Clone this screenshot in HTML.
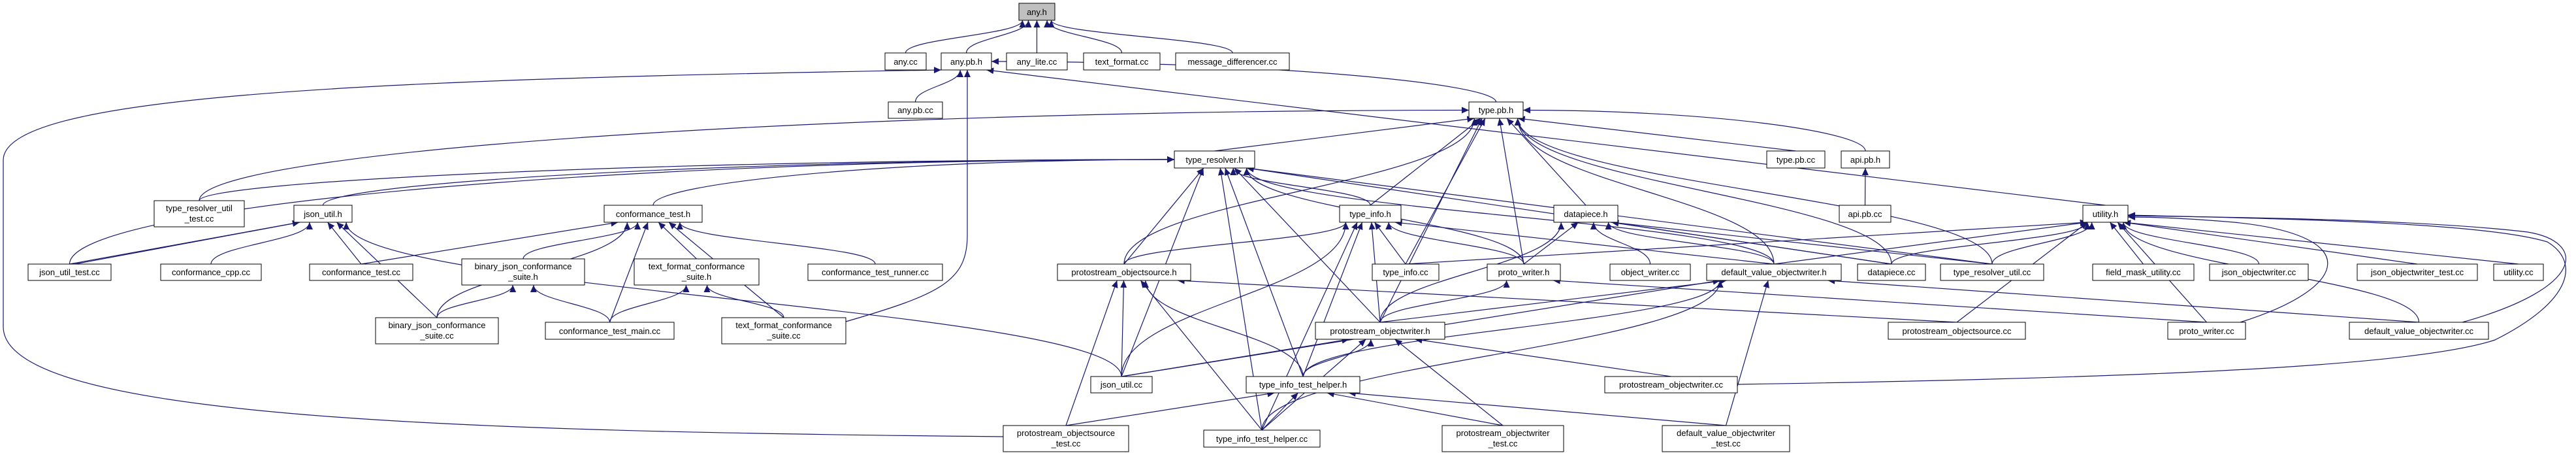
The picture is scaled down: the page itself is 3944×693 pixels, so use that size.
<!DOCTYPE html>
<html><head><meta charset="utf-8"><style>
html,body{margin:0;padding:0;background:#fff;}
svg{display:block;}
text{font-family:"Liberation Sans",sans-serif;font-size:13px;fill:#000;}
</style></head><body>
<svg id="g" xmlns="http://www.w3.org/2000/svg" width="3944" height="693" viewBox="0 0 3944 693">
<defs><marker id="ah" markerUnits="userSpaceOnUse" markerWidth="12" markerHeight="10" refX="11" refY="5" orient="auto"><path d="M0,0 L11,5 L0,10 z" fill="#191970"/></marker></defs>
<g id="edges" fill="none" stroke="#191970" stroke-width="1.2"></g>
<g id="nodes" stroke="#000" stroke-width="1">
<rect x="1560" y="5" width="55" height="26" fill="#bfbfbf"/><text x="1587.5" y="23" text-anchor="middle" stroke="none">any.h</text>
<rect x="1355" y="81" width="63" height="26" fill="#fff"/><text x="1386.5" y="99" text-anchor="middle" stroke="none">any.cc</text>
<rect x="1441" y="81" width="77" height="26" fill="#fff"/><text x="1479.5" y="99" text-anchor="middle" stroke="none">any.pb.h</text>
<rect x="1541" y="81" width="93" height="26" fill="#fff"/><text x="1587.5" y="99" text-anchor="middle" stroke="none">any_lite.cc</text>
<rect x="1659" y="81" width="117" height="26" fill="#fff"/><text x="1717.5" y="99" text-anchor="middle" stroke="none">text_format.cc</text>
<rect x="1800" y="81" width="174" height="26" fill="#fff"/><text x="1887" y="99" text-anchor="middle" stroke="none">message_differencer.cc</text>
<rect x="1360" y="156" width="83" height="25" fill="#fff"/><text x="1401.5" y="173" text-anchor="middle" stroke="none">any.pb.cc</text>
<rect x="2249" y="156" width="83" height="25" fill="#fff"/><text x="2290.5" y="173" text-anchor="middle" stroke="none">type.pb.h</text>
<rect x="2705" y="231" width="89" height="26" fill="#fff"/><text x="2749.5" y="249" text-anchor="middle" stroke="none">type.pb.cc</text>
<rect x="2819" y="231" width="74" height="26" fill="#fff"/><text x="2856" y="249" text-anchor="middle" stroke="none">api.pb.h</text>
<rect x="1798" y="231" width="123" height="26" fill="#fff"/><text x="1859.5" y="249" text-anchor="middle" stroke="none">type_resolver.h</text>
<rect x="2816" y="314" width="79" height="26" fill="#fff"/><text x="2855.5" y="332" text-anchor="middle" stroke="none">api.pb.cc</text>
<rect x="236" y="307" width="138" height="40" fill="#fff"/><text x="305" y="323" text-anchor="middle" stroke="none">type_resolver_util</text><text x="305" y="339" text-anchor="middle" stroke="none">_test.cc</text>
<rect x="450" y="314" width="89" height="26" fill="#fff"/><text x="494.5" y="332" text-anchor="middle" stroke="none">json_util.h</text>
<rect x="925" y="314" width="150" height="26" fill="#fff"/><text x="1000" y="332" text-anchor="middle" stroke="none">conformance_test.h</text>
<rect x="2051" y="314" width="94" height="26" fill="#fff"/><text x="2098" y="332" text-anchor="middle" stroke="none">type_info.h</text>
<rect x="2379" y="314" width="98" height="26" fill="#fff"/><text x="2428" y="332" text-anchor="middle" stroke="none">datapiece.h</text>
<rect x="3189" y="314" width="69" height="26" fill="#fff"/><text x="3223.5" y="332" text-anchor="middle" stroke="none">utility.h</text>
<rect x="43" y="404" width="127" height="25" fill="#fff"/><text x="106.5" y="421" text-anchor="middle" stroke="none">json_util_test.cc</text>
<rect x="246" y="404" width="154" height="25" fill="#fff"/><text x="323" y="421" text-anchor="middle" stroke="none">conformance_cpp.cc</text>
<rect x="474" y="404" width="158" height="25" fill="#fff"/><text x="553" y="421" text-anchor="middle" stroke="none">conformance_test.cc</text>
<rect x="707" y="396" width="188" height="40" fill="#fff"/><text x="801" y="412" text-anchor="middle" stroke="none">binary_json_conformance</text><text x="801" y="428" text-anchor="middle" stroke="none">_suite.h</text>
<rect x="971" y="396" width="191" height="40" fill="#fff"/><text x="1066.5" y="412" text-anchor="middle" stroke="none">text_format_conformance</text><text x="1066.5" y="428" text-anchor="middle" stroke="none">_suite.h</text>
<rect x="1237" y="404" width="206" height="25" fill="#fff"/><text x="1340" y="421" text-anchor="middle" stroke="none">conformance_test_runner.cc</text>
<rect x="1619" y="404" width="204" height="25" fill="#fff"/><text x="1721" y="421" text-anchor="middle" stroke="none">protostream_objectsource.h</text>
<rect x="2101" y="404" width="102" height="25" fill="#fff"/><text x="2152" y="421" text-anchor="middle" stroke="none">type_info.cc</text>
<rect x="2277" y="404" width="112" height="25" fill="#fff"/><text x="2333" y="421" text-anchor="middle" stroke="none">proto_writer.h</text>
<rect x="2465" y="404" width="123" height="25" fill="#fff"/><text x="2526.5" y="421" text-anchor="middle" stroke="none">object_writer.cc</text>
<rect x="2613" y="404" width="206" height="25" fill="#fff"/><text x="2716" y="421" text-anchor="middle" stroke="none">default_value_objectwriter.h</text>
<rect x="2844" y="404" width="104" height="25" fill="#fff"/><text x="2896" y="421" text-anchor="middle" stroke="none">datapiece.cc</text>
<rect x="2971" y="404" width="158" height="25" fill="#fff"/><text x="3050" y="421" text-anchor="middle" stroke="none">type_resolver_util.cc</text>
<rect x="3204" y="404" width="155" height="25" fill="#fff"/><text x="3281.5" y="421" text-anchor="middle" stroke="none">field_mask_utility.cc</text>
<rect x="3383" y="404" width="151" height="25" fill="#fff"/><text x="3458.5" y="421" text-anchor="middle" stroke="none">json_objectwriter.cc</text>
<rect x="3609" y="404" width="184" height="25" fill="#fff"/><text x="3701" y="421" text-anchor="middle" stroke="none">json_objectwriter_test.cc</text>
<rect x="3818" y="404" width="76" height="25" fill="#fff"/><text x="3856" y="421" text-anchor="middle" stroke="none">utility.cc</text>
<rect x="575" y="486" width="188" height="40" fill="#fff"/><text x="669" y="502" text-anchor="middle" stroke="none">binary_json_conformance</text><text x="669" y="518" text-anchor="middle" stroke="none">_suite.cc</text>
<rect x="835" y="493" width="197" height="26" fill="#fff"/><text x="933.5" y="511" text-anchor="middle" stroke="none">conformance_test_main.cc</text>
<rect x="1105" y="486" width="190" height="40" fill="#fff"/><text x="1200" y="502" text-anchor="middle" stroke="none">text_format_conformance</text><text x="1200" y="518" text-anchor="middle" stroke="none">_suite.cc</text>
<rect x="2014" y="493" width="198" height="26" fill="#fff"/><text x="2113" y="511" text-anchor="middle" stroke="none">protostream_objectwriter.h</text>
<rect x="2891" y="493" width="210" height="26" fill="#fff"/><text x="2996" y="511" text-anchor="middle" stroke="none">protostream_objectsource.cc</text>
<rect x="3319" y="493" width="119" height="26" fill="#fff"/><text x="3378.5" y="511" text-anchor="middle" stroke="none">proto_writer.cc</text>
<rect x="3597" y="493" width="213" height="26" fill="#fff"/><text x="3703.5" y="511" text-anchor="middle" stroke="none">default_value_objectwriter.cc</text>
<rect x="1670" y="576" width="94" height="25" fill="#fff"/><text x="1717" y="593" text-anchor="middle" stroke="none">json_util.cc</text>
<rect x="1908" y="576" width="174" height="25" fill="#fff"/><text x="1995" y="593" text-anchor="middle" stroke="none">type_info_test_helper.h</text>
<rect x="2457" y="576" width="203" height="25" fill="#fff"/><text x="2558.5" y="593" text-anchor="middle" stroke="none">protostream_objectwriter.cc</text>
<rect x="1536" y="651" width="192" height="40" fill="#fff"/><text x="1632" y="667" text-anchor="middle" stroke="none">protostream_objectsource</text><text x="1632" y="683" text-anchor="middle" stroke="none">_test.cc</text>
<rect x="1843" y="658" width="178" height="26" fill="#fff"/><text x="1932" y="676" text-anchor="middle" stroke="none">type_info_test_helper.cc</text>
<rect x="2208" y="651" width="186" height="40" fill="#fff"/><text x="2301" y="667" text-anchor="middle" stroke="none">protostream_objectwriter</text><text x="2301" y="683" text-anchor="middle" stroke="none">_test.cc</text>
<rect x="2545" y="651" width="195" height="40" fill="#fff"/><text x="2642.5" y="667" text-anchor="middle" stroke="none">default_value_objectwriter</text><text x="2642.5" y="683" text-anchor="middle" stroke="none">_test.cc</text>
</g>
</svg>
<script>
var N={anyh:[1560,5,1615,31],anycc:[1355,81,1418,107],anypbh:[1441,81,1518,107],anylite:[1541,81,1634,107],textformat:[1659,81,1776,107],msgdiff:[1800,81,1974,107],anypbcc:[1360,156,1443,181],typepbh:[2249,156,2332,181],typepbcc:[2705,231,2794,257],apipbh:[2819,231,2893,257],trh:[1798,231,1921,257],apipbcc:[2816,314,2895,340],trut:[236,307,374,347],jsonutilh:[450,314,539,340],cth:[925,314,1075,340],typeinfoh:[2051,314,2145,340],datapieceh:[2379,314,2477,340],utilityh:[3189,314,3258,340],jut:[43,404,170,429],ccpp:[246,404,400,429],ctcc:[474,404,632,429],bjcsh:[707,396,895,436],tfcsh:[971,396,1162,436],ctr:[1237,404,1443,429],posh:[1619,404,1823,429],typeinfocc:[2101,404,2203,429],pwh:[2277,404,2389,429],owcc:[2465,404,2588,429],dvowh:[2613,404,2819,429],dpcc:[2844,404,2948,429],truc:[2971,404,3129,429],fmu:[3204,404,3359,429],jow:[3383,404,3534,429],jowt:[3609,404,3793,429],utilcc:[3818,404,3894,429],bjcscc:[575,486,763,526],ctm:[835,493,1032,519],tfcscc:[1105,486,1295,526],powh:[2014,493,2212,519],poscc:[2891,493,3101,519],pwcc:[3319,493,3438,519],dvowcc:[3597,493,3810,519],jucc:[1670,576,1764,601],tith:[1908,576,2082,601],powcc:[2457,576,2660,601],post:[1536,651,1728,691],titcc:[1843,658,2021,684],powt:[2208,651,2394,691],dvowt:[2545,651,2740,691]};
var E={anyh:"anycc anypbh anylite textformat msgdiff",anypbh:"anypbcc typepbh utilityh",typepbh:"typepbcc apipbh trh trut typeinfoh typeinfocc powh pwh datapieceh dvowh truc posh dpcc",apipbh:"apipbcc",trh:"trut jsonutilh cth jut posh jucc typeinfoh tith titcc powh pwh dpcc truc dvowh",jsonutilh:"jut jut ccpp ctcc bjcscc jucc",cth:"bjcsh tfcsh ctcc ctm ctr bjcscc tfcscc",bjcsh:"bjcscc ctm",tfcsh:"ctm tfcscc",typeinfoh:"typeinfocc pwh posh powh tith titcc jucc dvowh",datapieceh:"pwh owcc dvowh dpcc truc powh",pwh:"powh pwcc",dvowh:"powh jucc tith dvowt dvowcc titcc",posh:"jucc tith post titcc poscc",powh:"jucc tith titcc powt powcc",tith:"post titcc powt dvowt",utilityh:"typeinfocc dpcc truc fmu jow jowt utilcc poscc pwcc dvowcc dvowh"};
var g=document.getElementById('edges'),ns='http://www.w3.org/2000/svg';
function P(d){var p=document.createElementNS(ns,'path');p.setAttribute('d',d);p.setAttribute('marker-end','url(#ah)');g.appendChild(p);}
var cnt={};
for(var par in E){E[par].split(' ').forEach(function(ch){
 var a=N[par],c=N[ch];var pcx=(a[0]+a[2])/2,ccx=(c[0]+c[2])/2;var k=par+ch;cnt[k]=(cnt[k]||0)+1;
 var cx=ccx+(cnt[k]-1)*8,cy=c[1];var dx=ccx-pcx,dy=cy-a[3];var px,py;
 if(Math.abs(dx)>11*dy && a[3]<300){px=dx<0?a[0]:a[2];py=(a[1]+a[3])/2+(cnt[k]-1)*4;
   P('M'+cx+','+cy+' C'+cx+','+(cy-dy*0.6)+' '+(px+dx*0.5)+','+py+' '+px+','+py);}
 else{var hw=(a[2]-a[0])/2*0.8;px=pcx+Math.max(-hw,Math.min(hw,dx*0.12));py=a[3];
   if(Math.abs(dx)<dy*1.5||Math.abs(dx)>6*dy){P('M'+cx+','+cy+' L'+px+','+py);}
   else P('M'+cx+','+cy+' C'+cx+','+(cy-dy*0.45)+' '+px+','+(py+dy*0.45)+' '+px+','+py);}
});}
P('M1536,668 C700,660 5,640 5,500 L5,245 C5,150 500,122 1441,107');
P('M1295,492 C1440,450 1481,430 1481,360 L1481,107');
P('M2660,588 C3300,578 3700,560 3820,520 C3940,460 3950,400 3900,370 C3800,340 3500,335 3258,329');
P('M3770,493 C3960,440 3960,370 3870,355 C3700,335 3400,332 3258,330');
P('M3430,493 C3600,440 3620,360 3420,340 C3350,334 3300,332 3258,332');
</script>
</body></html>
